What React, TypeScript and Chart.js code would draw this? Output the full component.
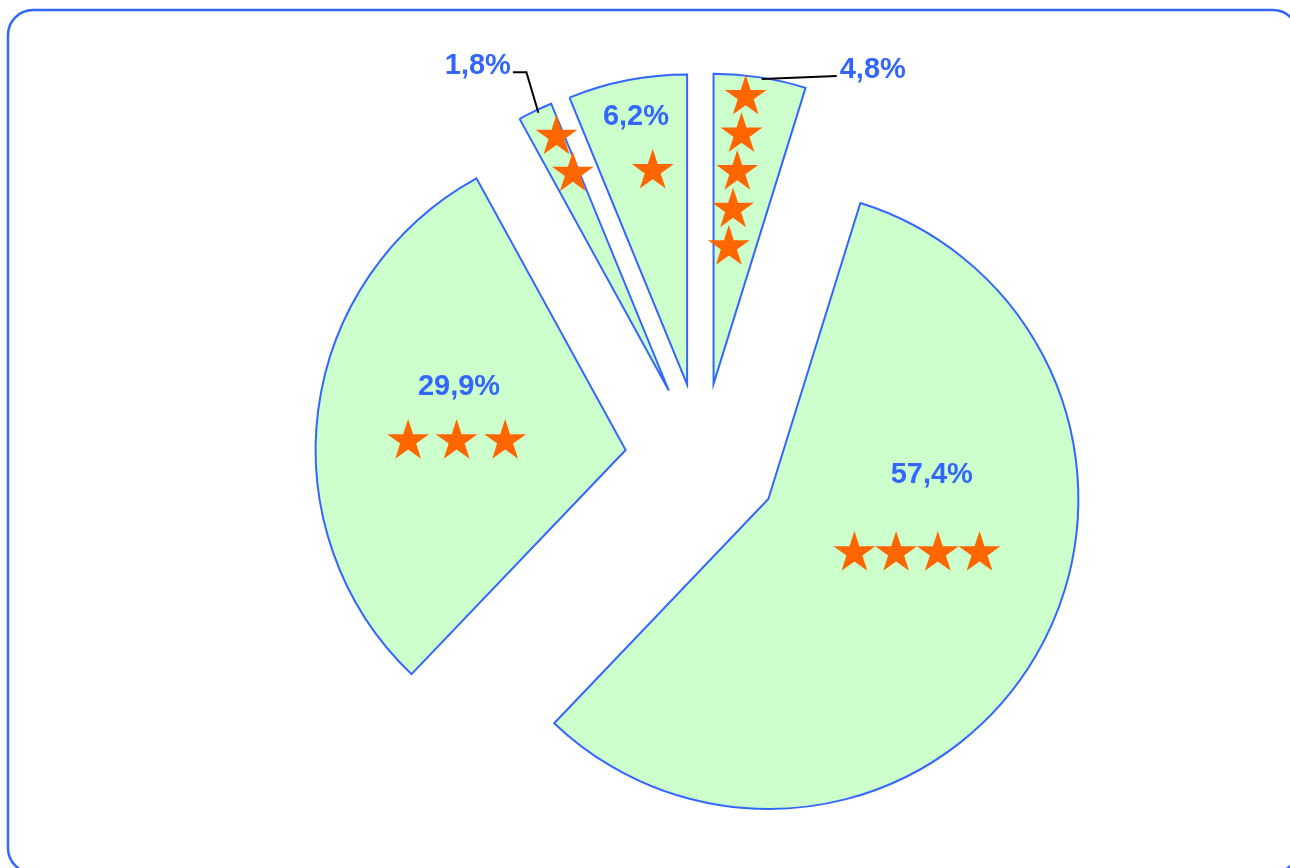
import React, { useEffect, useRef } from 'react';
import { Chart, registerables } from 'chart.js';

Chart.register(...registerables);

// ---- data ----
const sliceLabels = ['4,8%', '57,4%', '29,9%', '1,8%', '6,2%'];
const sliceValues = [4.8, 57.4, 29.9, 1.8, 6.2];
const starCounts = [5, 4, 3, 2, 1];

// ---- styles ----
const FILL = '#CCFFCC';
const BLUE = '#3366FF';
const STAR = '#FF6600';
const EXPLODE = 77;
const RADIUS = 310;
const STAR_R = 22;
const FONT = 'bold 29px "Liberation Sans", Arial, sans-serif';

// label placement, relative to each slice (t = fraction of slice angle, r = fraction of radius)
const labelLayout: any[] = [
  { kind: 'leader', t: 0.52, r: 0.996, path: [[75, -3]], align: 'left', dx: 3, dy: -8 },
  { kind: 'inside', t: 0.3075, r: 0.534 },
  { kind: 'inside', t: 0.629, r: 0.577 },
  { kind: 'leader', t: 0.56, r: 0.99, path: [[-12, -40.5], [-25.5, -40.5]], align: 'right', dx: -2, dy: -9 },
  { kind: 'inside', t: 0.518, r: 0.885 },
];

// star placement, relative to each slice
const starLayout: any[] = [
  { mode: 'radial', t: 0.37, r: 0.932, step: 37.8 },
  { mode: 'row', t: 0.449, r: 0.51, step: 41.7 },
  { mode: 'row', t: 0.459, r: 0.546, step: 48.5 },
  { mode: 'radial', t: 0.76, r: 0.896, step: 40.4 },
  { mode: 'row', t: 0.59, r: 0.698, step: 0 },
];

function polar(el: any, t: number, r: number) {
  const a = el.startAngle + (el.endAngle - el.startAngle) * t;
  const rr = el.outerRadius * r;
  return { x: el.x + Math.cos(a) * rr, y: el.y + Math.sin(a) * rr, a };
}

function drawStar(ctx: CanvasRenderingContext2D, cx: number, cy: number, R: number) {
  const r = R * 0.382;
  ctx.beginPath();
  for (let i = 0; i < 10; i++) {
    const ang = -Math.PI / 2 + (i * Math.PI) / 5;
    const rad = i % 2 === 0 ? R : r;
    const x = cx + Math.cos(ang) * rad;
    const y = cy + Math.sin(ang) * rad;
    if (i === 0) ctx.moveTo(x, y);
    else ctx.lineTo(x, y);
  }
  ctx.closePath();
  ctx.fill();
}

const cardPlugin = {
  id: 'card',
  beforeDraw(chart: any) {
    const ctx = chart.ctx;
    ctx.save();
    ctx.strokeStyle = BLUE;
    ctx.lineWidth = 2.5;
    ctx.beginPath();
    (ctx as any).roundRect(8, 10, 1290, 863, 25);
    ctx.stroke();
    ctx.restore();
  },
};

const explodePlugin = {
  id: 'explode',
  afterDatasetsUpdate(chart: any) {
    const meta = chart.getDatasetMeta(0);
    meta.data.forEach((el: any) => {
      const mid = (el.startAngle + el.endAngle) / 2;
      el.x += Math.cos(mid) * EXPLODE;
      el.y += Math.sin(mid) * EXPLODE;
    });
  },
};

const decorPlugin = {
  id: 'decor',
  afterDatasetsDraw(chart: any) {
    const ctx = chart.ctx as CanvasRenderingContext2D;
    const meta = chart.getDatasetMeta(0);
    ctx.save();
    // stars
    ctx.fillStyle = STAR;
    meta.data.forEach((el: any, i: number) => {
      const lay = starLayout[i];
      const n = starCounts[i];
      if (lay.mode === 'radial') {
        for (let k = 0; k < n; k++) {
          const p = polar(el, lay.t, lay.r - (k * lay.step) / el.outerRadius);
          drawStar(ctx, p.x, p.y, STAR_R);
        }
      } else {
        const c = polar(el, lay.t, lay.r);
        for (let k = 0; k < n; k++) {
          drawStar(ctx, c.x + (k - (n - 1) / 2) * lay.step, c.y, STAR_R);
        }
      }
    });
    // labels
    ctx.font = FONT;
    ctx.fillStyle = BLUE;
    ctx.textBaseline = 'alphabetic';
    meta.data.forEach((el: any, i: number) => {
      const lay = labelLayout[i];
      const text = sliceLabels[i];
      const p = polar(el, lay.t, lay.r);
      if (lay.kind === 'inside') {
        ctx.textAlign = 'center';
        ctx.fillText(text, p.x, p.y + 10.4);
      } else {
        ctx.strokeStyle = '#000000';
        ctx.lineWidth = 2;
        ctx.beginPath();
        ctx.moveTo(p.x, p.y);
        let ex = p.x;
        let ey = p.y;
        lay.path.forEach((d: number[]) => {
          ex = p.x + d[0];
          ey = p.y + d[1];
          ctx.lineTo(ex, ey);
        });
        ctx.stroke();
        ctx.textAlign = lay.align;
        ctx.fillText(text, ex + lay.dx, ey + lay.dy + 10.4);
      }
    });
    ctx.restore();
  },
};

export default function App() {
  const ref = useRef<HTMLCanvasElement | null>(null);
  useEffect(() => {
    if (!ref.current) return;
    const chart = new Chart(ref.current, {
      type: 'pie',
      data: {
        labels: sliceLabels,
        datasets: [
          {
            data: sliceValues,
            backgroundColor: FILL,
            borderColor: BLUE,
            borderWidth: 2,
            borderJoinStyle: 'miter',
            radius: RADIUS,
          } as any,
        ],
      },
      options: {
        animation: false,
        responsive: false,
        events: [],
        layout: { padding: { left: 114, top: 52, right: 0, bottom: 0 } },
        plugins: {
          legend: { display: false },
          tooltip: { enabled: false },
        },
      },
      plugins: [cardPlugin, explodePlugin, decorPlugin],
    });
    return () => chart.destroy();
  }, []);
  return (
    <div style={{ position: 'fixed', left: 0, top: 0, width: 1290, height: 868, background: '#ffffff' }}>
      <canvas ref={ref} width={1290} height={868} style={{ display: 'block' }} />
    </div>
  );
}
